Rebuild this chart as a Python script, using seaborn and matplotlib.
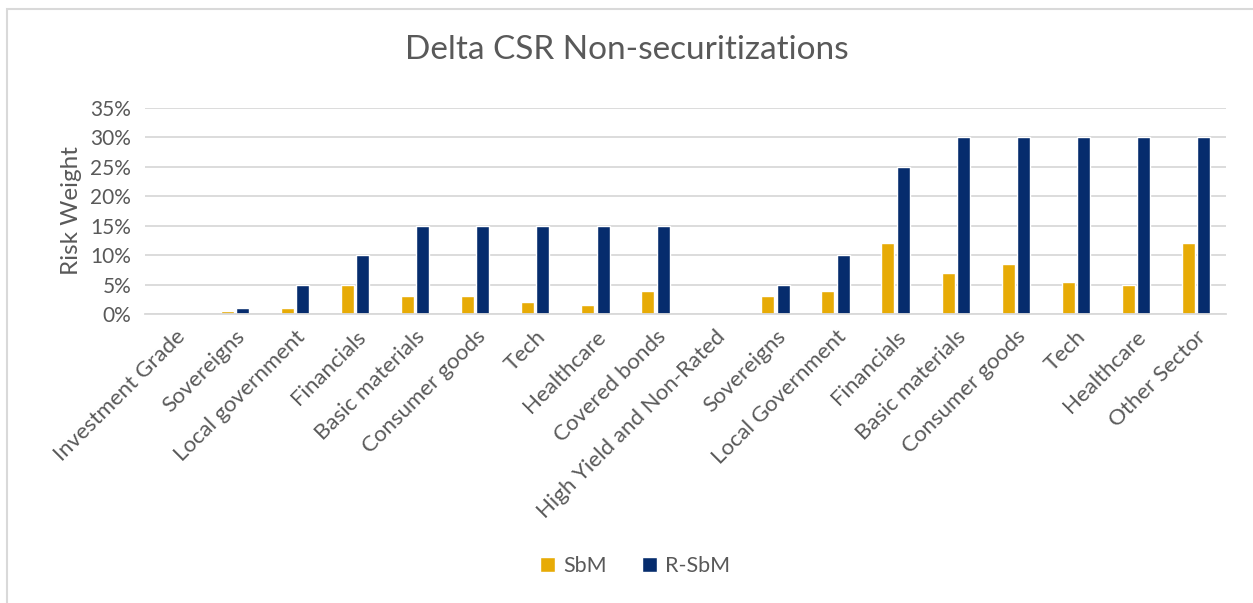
import pandas as pd
import seaborn as sns
import matplotlib.pyplot as plt
from matplotlib.patches import Rectangle
from matplotlib.ticker import PercentFormatter

# categories (two buckets: investment grade / high yield)
categories = ['Investment Grade', 'Sovereigns', 'Local government', 'Financials',
              'Basic materials', 'Consumer goods', 'Tech', 'Healthcare',
              'Covered bonds', 'High Yield and Non-Rated', 'Sovereigns',
              'Local Government', 'Financials', 'Basic materials',
              'Consumer goods', 'Tech', 'Healthcare', 'Other Sector']
sbm = [0, 0.5, 1, 5, 3, 3, 2, 1.5, 4, 0, 3, 4, 12, 7, 8.5, 5.5, 5, 12]
rsbm = [0, 1, 5, 10, 15, 15, 15, 15, 15, 0, 5, 10, 25, 30, 30, 30, 30, 30]
series = ['SbM', 'R-SbM']
colors = ['#E7AB06', '#062C6D']
text_color = '#595959'
grid_color = '#D9D9D9'

df = pd.DataFrame({
    'pos': list(range(len(categories))) * 2,
    'value': sbm + rsbm,
    'series': [series[0]] * len(sbm) + [series[1]] * len(rsbm),
})

sns.set_style('white')
plt.rcParams['font.family'] = ['Lato', 'DejaVu Sans']

fig = plt.figure(figsize=(12.53, 6.03), dpi=100)
ax = fig.add_axes([0.1157, 0.479, 0.8627, 0.342])

sns.barplot(data=df, x='pos', y='value', hue='series', palette=colors,
            width=0.51, gap=0.15, ax=ax, legend=True, saturation=1)

ax.set_ylim(0, 35)
ax.set_yticks(range(0, 36, 5))
ax.yaxis.set_major_formatter(PercentFormatter(decimals=0))
ax.grid(axis='y', color=grid_color, linewidth=1.3)
ax.set_axisbelow(True)
for s in ['top', 'right', 'left']:
    ax.spines[s].set_visible(False)
ax.spines['bottom'].set_color(grid_color)
ax.spines['bottom'].set_linewidth(1.3)
ax.set_xlim(-0.5, len(categories) - 0.5)

ax.set_xticks(range(len(categories)))
ax.set_xticklabels(categories, rotation=45, ha='right', rotation_mode='anchor')
ax.tick_params(axis='x', length=0, labelsize=16, colors=text_color, pad=9)
ax.tick_params(axis='y', length=0, labelsize=15, colors=text_color, pad=10)
ax.set_xlabel('')
ax.set_ylabel('Risk Weight', fontsize=17.5, color=text_color, labelpad=6)

fig.suptitle('Delta CSR Non-securitizations', fontsize=24, color=text_color,
             y=0.917, va='center')

ax.legend(handles=ax.get_legend().legend_handles, labels=series,
          loc='center', bbox_to_anchor=(0.507, 0.061),
          bbox_transform=fig.transFigure, ncol=2, frameon=False,
          fontsize=15.5, labelcolor=text_color, handlelength=0.7,
          handleheight=0.7, handletextpad=0.4, columnspacing=1.6)

fig.patches.append(Rectangle((7 / 1253, -0.1), 1.2, 1.1 - 9.5 / 603,
                             transform=fig.transFigure, fill=False,
                             edgecolor=grid_color, linewidth=1.5))

fig.savefig('out.png', dpi=100)
